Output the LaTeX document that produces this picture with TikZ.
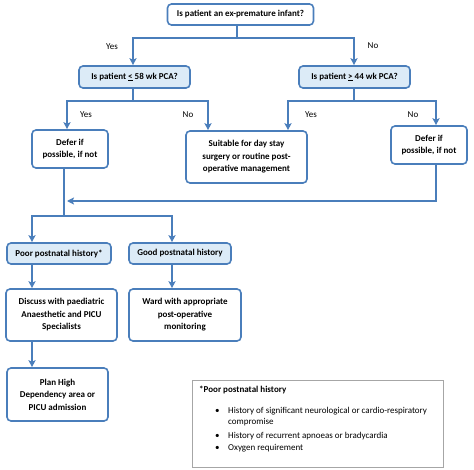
\documentclass[tikz,border=0pt]{standalone}
\usepackage{fontspec}
\setmainfont{Carlito}
\usetikzlibrary{arrows.meta,positioning}
\definecolor{lineblue}{HTML}{4A7EBB}
\definecolor{fillblue}{HTML}{DCEBF7}
\definecolor{legendgray}{HTML}{A6A6A6}
\tikzset{
  box/.style={draw=lineblue, line width=1.6pt, rounded corners=4pt, fill=white,
    align=center, inner sep=1pt, font=\fontsize{9}{12.5}\selectfont\bfseries},
  qbox/.style={box, fill=fillblue},
  conn/.style={draw=lineblue, line width=1.8pt},
  arr/.style={conn, -{Stealth[length=7pt,width=7pt,inset=1.5pt]}},
  lbl/.style={font=\fontsize{9}{10}\selectfont, inner sep=0pt},
  ltext/.style={font=\fontsize{9}{11.5}\selectfont, inner sep=0pt, anchor=west},
}
\begin{document}
\begin{tikzpicture}[x=1pt,y=-1pt]
\useasboundingbox (0,0) rectangle (474,470);
% boxes
\node[box, minimum width=146pt, minimum height=21pt] (q1) at (240.5,14.5) {Is patient an ex-premature infant?};
\node[qbox, minimum width=111pt, minimum height=22pt] (q2L) at (134.5,77) {Is patient \underline{<} 58 wk PCA?};
\node[qbox, minimum width=111pt, minimum height=22pt] (q2R) at (354.5,77) {Is patient \underline{>} 44 wk PCA?};
\node[box, minimum width=76pt, minimum height=38pt] (d1) at (70,149) {Defer if\\possible, if not};
\node[box, minimum width=121pt, minimum height=52pt] (suit) at (246.5,157) {Suitable for day stay\\surgery or routine post-\\operative management};
\node[box, minimum width=76pt, minimum height=38pt] (d2) at (429,145) {Defer if\\possible, if not};
\node[qbox, minimum width=104pt, minimum height=21pt] (poor) at (59,253.5) {Poor postnatal history*};
\node[qbox, minimum width=102pt, minimum height=21pt] (good) at (180,253.5) {Good postnatal history};
\node[box, minimum width=111pt, minimum height=52pt] (disc) at (61.5,315) {Discuss with paediatric\\Anaesthetic and PICU\\Specialists};
\node[box, minimum width=112pt, minimum height=52pt] (ward) at (185,315) {Ward with appropriate\\post-operative\\monitoring};
\node[box, minimum width=101pt, minimum height=53pt] (plan) at (57.5,394.5) {Plan High\\Dependency area or\\PICU admission};
% legend
\node[draw=legendgray, line width=1pt, minimum width=251pt, minimum height=87pt, inner sep=0pt] (leg) at (317.5,423.5) {};
\node[ltext, font=\fontsize{9}{11.5}\selectfont\bfseries] (lt) at (199,390) {*Poor postnatal history};
\node[ltext] (b1) at (215,411) {•};
\node[ltext] (t1) at (228,411) {History of significant neurological or cardio-respiratory};
\node[ltext] (t1b) at (228,422.5) {compromise};
\node[ltext] (b2) at (215,436) {•};
\node[ltext] (t2) at (228,436) {History of recurrent apnoeas or bradycardia};
\node[ltext] (b3) at (215,448) {•};
\node[ltext] (t3) at (228,448) {Oxygen requirement};
% helper coordinates
\coordinate (j1) at (237,38);
\coordinate (j2) at (133,101);
\coordinate (j3) at (354,101);
\coordinate (j4) at (64,216);
\coordinate (j5) at (67,201);
\coordinate (aL) at (133,0);
\coordinate (aR) at (354,0);
\coordinate (b1x) at (67,0);
\coordinate (b2x) at (208,0);
\coordinate (b3x) at (288,0);
\coordinate (b4x) at (436,0);
\coordinate (c1x) at (32,0);
\coordinate (c2x) at (172,0);
% connectors
\draw[conn] (q1.south -| j1) -- (j1);
\draw[arr] (j1) -| (aL |- q2L.north);
\draw[arr] (j1) -| (aR |- q2R.north);
\draw[conn] (q2L.south -| j2) -- (j2);
\draw[arr] (j2) -| (b1x |- d1.north);
\draw[arr] (j2) -| (b2x |- suit.north);
\draw[conn] (q2R.south -| j3) -- (j3);
\draw[arr] (j3) -| (b3x |- suit.north);
\draw[arr] (j3) -| (b4x |- d2.north);
\draw[arr] (b4x |- d2.south) |- (j5);
\draw[conn] (j4 |- d1.south) -- (j4);
\draw[arr] (j4) -| (c1x |- poor.north);
\draw[arr] (j4) -| (c2x |- good.north);
\draw[arr] (c1x |- poor.south) -- (c1x |- disc.north);
\draw[arr] (c2x |- good.south) -- (c2x |- ward.north);
\draw[arr] (c1x |- disc.south) -- (c1x |- plan.north);
% labels
\node[lbl] (y1) at (112,47) {Yes};
\node[lbl] (n1) at (373,46) {No};
\node[lbl] (y2) at (86,115) {Yes};
\node[lbl] (n2) at (188,115) {No};
\node[lbl] (y3) at (311,115) {Yes};
\node[lbl] (n3) at (413,115) {No};
\end{tikzpicture}
\end{document}
